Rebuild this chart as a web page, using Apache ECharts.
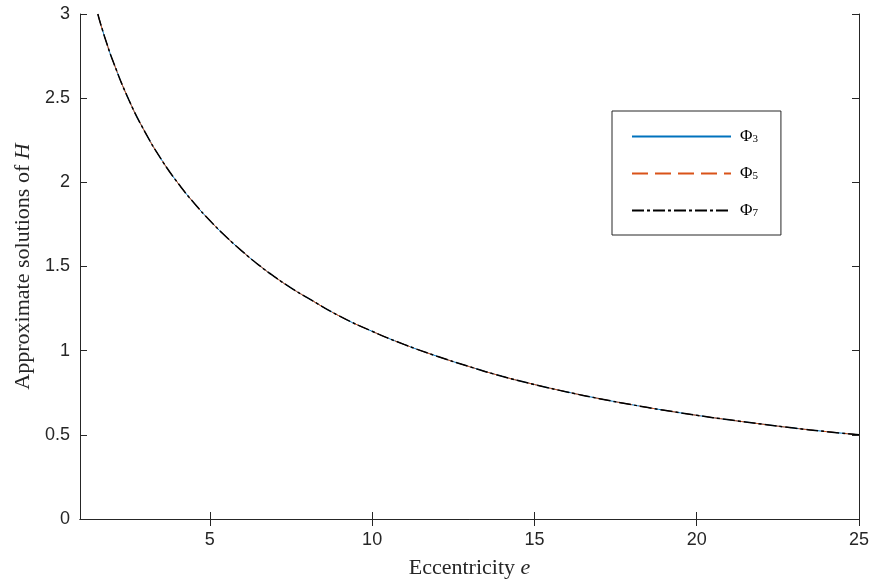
<!DOCTYPE html>
<html>
<head>
<meta charset="utf-8">
<script src="https://cdn.jsdelivr.net/npm/echarts@6/dist/echarts.min.js"></script>
<style>
  html, body { margin: 0; padding: 0; background: #fff; }
  #chart { width: 874px; height: 584px; }
</style>
</head>
<body>
<div id="chart"></div>
<script>
// eccentricity e
const eValues = [1.55, 1.6, 1.7, 1.8, 2, 2.5, 3, 3.5, 4, 4.5, 5, 5.5, 6, 6.5, 7, 7.5, 8, 9, 10,
  11, 12, 13, 14, 15, 16, 17, 18, 19, 20, 21, 22, 23, 24, 25]
// approximate H (same curve for all three orders)
const hPhi3 = [3.0, 2.964, 2.90, 2.84, 2.728, 2.492, 2.30, 2.138, 2.0, 1.88, 1.773, 1.677, 1.59, 1.51, 1.438, 1.373,
  1.315, 1.205, 1.115, 1.036, 0.967, 0.905, 0.848, 0.799, 0.755, 0.715, 0.679, 0.646, 0.616, 0.589,
  0.564, 0.54, 0.519, 0.5]
const hPhi5 = hPhi3.slice()
const hPhi7 = hPhi3.slice()
const xTicks = [5, 10, 15, 20, 25]
const seriesNames = ['Φ3', 'Φ5', 'Φ7']

const axisColor = '#262626'
const chart = echarts.init(document.getElementById('chart'))

const pairs = arr => eValues.map((e, i) => [e, arr[i]])

const boxAxis = {
  axisLine: { show: true, lineStyle: { color: axisColor, width: 1 } },
  axisTick: { show: true, inside: true, length: 7, lineStyle: { color: axisColor } },
  splitLine: { show: false }
}

const nameRich = {
  t: { fontFamily: 'Liberation Serif', fontSize: 22, color: axisColor },
  i: { fontFamily: 'Liberation Serif', fontSize: 22, fontStyle: 'italic', color: axisColor }
}

chart.setOption({
  animation: false,
  grid: { left: 80, right: 15, top: 14, bottom: 65 },
  legend: {
    orient: 'vertical',
    left: 612,
    top: 111,
    padding: [17, 23, 16, 19],
    itemWidth: 99,
    itemHeight: 14,
    itemGap: 20,
    backgroundColor: '#fff',
    borderColor: axisColor,
    borderWidth: 1,
    itemStyle: { opacity: 0 },
    data: seriesNames,
    formatter(name) {
      return '{p|Φ}{s|' + name.slice(1) + '}'
    },
    textStyle: {
      rich: {
        p: { fontFamily: 'Liberation Serif', fontSize: 17, color: '#000', padding: [0, 0, 0, 4] },
        s: { fontFamily: 'Liberation Serif', fontSize: 11, color: '#000', verticalAlign: 'bottom', padding: [6, 0, 0, 0] }
      }
    }
  },
  xAxis: [
    Object.assign({}, boxAxis, {
      type: 'value', min: 1, max: 25, position: 'bottom',
      name: '{t|Eccentricity }{i|e}',
      nameLocation: 'middle',
      nameGap: 38,
      nameTextStyle: { rich: nameRich },
      axisTick: Object.assign({}, boxAxis.axisTick, { customValues: xTicks }),
      axisLabel: { customValues: xTicks, color: axisColor, fontFamily: 'Liberation Sans', fontSize: 18, margin: 12 }
    }),
    Object.assign({}, boxAxis, {
      type: 'value', min: 1, max: 25, position: 'top',
      axisTick: Object.assign({}, boxAxis.axisTick, { customValues: xTicks }),
      axisLabel: { show: false }
    })
  ],
  yAxis: [
    Object.assign({}, boxAxis, {
      type: 'value', min: 0, max: 3, interval: 0.5, position: 'left',
      name: '{t|Approximate solutions of }{i|H}',
      nameLocation: 'middle',
      nameGap: 44,
      nameTextStyle: { rich: nameRich },
      axisLabel: { color: axisColor, fontFamily: 'Liberation Sans', fontSize: 18, margin: 10 }
    }),
    Object.assign({}, boxAxis, {
      type: 'value', min: 0, max: 3, interval: 0.5, position: 'right',
      axisLabel: { show: false }
    })
  ],
  series: [
    {
      name: seriesNames[0], type: 'line', smooth: true, symbol: 'none',
      data: pairs(hPhi3),
      lineStyle: { color: '#0072BD', width: 1, type: 'solid' },
      itemStyle: { color: '#0072BD' }
    },
    {
      name: seriesNames[1], type: 'line', smooth: true, symbol: 'none',
      data: pairs(hPhi5),
      lineStyle: { color: '#D95319', width: 1, type: [16, 7] },
      itemStyle: { color: '#D95319' }
    },
    {
      name: seriesNames[2], type: 'line', smooth: true, symbol: 'none',
      data: pairs(hPhi7),
      lineStyle: { color: '#000', width: 1.5, type: [12, 3, 3, 3] },
      itemStyle: { color: '#000' }
    }
  ]
})
</script>
</body>
</html>
